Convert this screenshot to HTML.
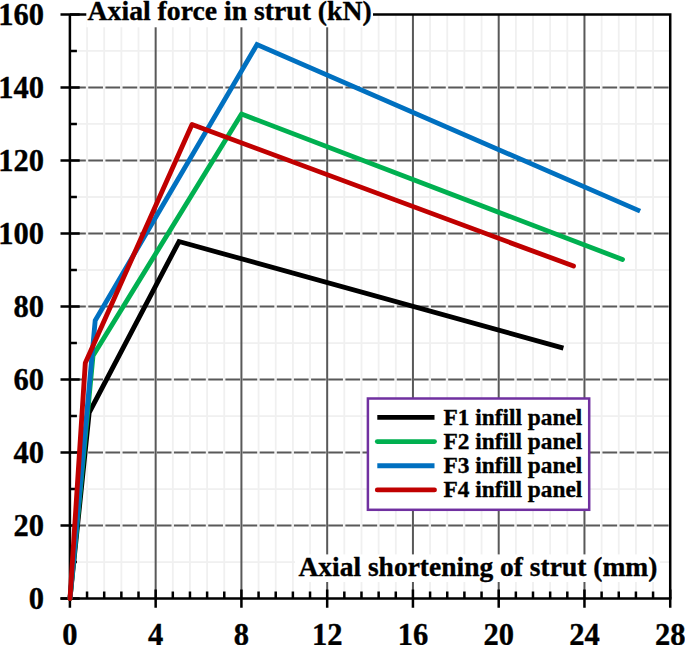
<!DOCTYPE html><html><head><meta charset="utf-8"><style>html,body{margin:0;padding:0;background:#fff;width:685px;height:645px;overflow:hidden}svg{display:block}text{font-family:"Liberation Serif",serif;font-weight:bold;fill:#000;stroke:#000;stroke-width:0.35px}</style></head><body>
<svg width="685" height="645" viewBox="0 0 685 645">
<path d="M87.05 14.44V598.60M104.20 14.44V598.60M121.36 14.44V598.60M138.51 14.44V598.60M172.81 14.44V598.60M189.96 14.44V598.60M207.12 14.44V598.60M224.27 14.44V598.60M258.57 14.44V598.60M275.72 14.44V598.60M292.88 14.44V598.60M310.03 14.44V598.60M344.33 14.44V598.60M361.48 14.44V598.60M378.64 14.44V598.60M395.79 14.44V598.60M430.09 14.44V598.60M447.24 14.44V598.60M464.40 14.44V598.60M481.55 14.44V598.60M515.85 14.44V598.60M533.00 14.44V598.60M550.16 14.44V598.60M567.31 14.44V598.60M601.61 14.44V598.60M618.76 14.44V598.60M635.92 14.44V598.60M653.07 14.44V598.60M69.90 562.09H670.22M69.90 489.07H670.22M69.90 416.05H670.22M69.90 343.03H670.22M69.90 270.01H670.22M69.90 196.99H670.22M69.90 123.97H670.22M69.90 50.95H670.22" stroke="#f0f0f0" stroke-width="1.8" fill="none"/>
<path d="M155.66 14.44V598.60M241.42 14.44V598.60M327.18 14.44V598.60M412.94 14.44V598.60M498.70 14.44V598.60M584.46 14.44V598.60" stroke="#595959" stroke-width="2" fill="none"/>
<path d="M69.90 525.58H670.22M69.90 452.56H670.22M69.90 379.54H670.22M69.90 306.52H670.22M69.90 233.50H670.22M69.90 160.48H670.22M69.90 87.46H670.22" stroke="#595959" stroke-width="2" fill="none" stroke-dasharray="14.74 2.4" stroke-dashoffset="15.94"/>
<path d="M69.90 14.44H670.22V598.60" stroke="#000" stroke-width="2.5" fill="none"/>
<path d="M69.90 14.14V599.85M60.50 598.60H671.42" stroke="#000" stroke-width="2.5" fill="none"/>
<path d="M60.5 598.60H79.7M60.5 525.58H79.7M60.5 452.56H79.7M60.5 379.54H79.7M60.5 306.52H79.7M60.5 233.50H79.7M60.5 160.48H79.7M60.5 87.46H79.7M60.5 14.44H79.7M69.90 562.09H76.9M69.90 489.07H76.9M69.90 416.05H76.9M69.90 343.03H76.9M69.90 270.01H76.9M69.90 196.99H76.9M69.90 123.97H76.9M69.90 50.95H76.9M69.90 589.4V607.8M155.66 589.4V607.8M241.42 589.4V607.8M327.18 589.4V607.8M412.94 589.4V607.8M498.70 589.4V607.8M584.46 589.4V607.8M670.22 589.4V607.8M87.05 591.6V598.60M104.20 591.6V598.60M121.36 591.6V598.60M138.51 591.6V598.60M172.81 591.6V598.60M189.96 591.6V598.60M207.12 591.6V598.60M224.27 591.6V598.60M258.57 591.6V598.60M275.72 591.6V598.60M292.88 591.6V598.60M310.03 591.6V598.60M344.33 591.6V598.60M361.48 591.6V598.60M378.64 591.6V598.60M395.79 591.6V598.60M430.09 591.6V598.60M447.24 591.6V598.60M464.40 591.6V598.60M481.55 591.6V598.60M515.85 591.6V598.60M533.00 591.6V598.60M550.16 591.6V598.60M567.31 591.6V598.60M601.61 591.6V598.60M618.76 591.6V598.60M635.92 591.6V598.60M653.07 591.6V598.60" stroke="#000" stroke-width="2.5" fill="none"/>
<path d="M70.0 598.6 L89.2 412.5 L179.0 241.5 L563.4 348.1" stroke="#000000" stroke-width="4.85" fill="none" stroke-linecap="butt" stroke-linejoin="miter"/>
<path d="M70.0 598.6 L93.0 355.8 L241.5 114.0 L622.5 259.5" stroke="#00B050" stroke-width="4.85" fill="none" stroke-linecap="round" stroke-linejoin="round"/>
<path d="M70.0 598.6 L95.2 320.5 L257.0 44.5 L640.1 211.1" stroke="#0070C0" stroke-width="4.85" fill="none" stroke-linecap="butt" stroke-linejoin="miter"/>
<path d="M70.0 598.6 L85.3 363.0 L192.0 124.5 L573.5 266.1" stroke="#C00000" stroke-width="4.85" fill="none" stroke-linecap="round" stroke-linejoin="round"/>
<rect x="86.3" y="0" width="286.7" height="27.3" fill="#fff"/>
<text x="87.6" y="20.2" font-size="27.7">Axial force in strut (kN)</text>
<rect x="295" y="554.4" width="365" height="27.6" fill="#fff"/>
<text x="298.4" y="575.8" font-size="27.5">Axial shortening of strut (mm)</text>
<text x="44" y="609.30" font-size="30.5" text-anchor="end">0</text>
<text x="44" y="536.28" font-size="30.5" text-anchor="end">20</text>
<text x="44" y="463.26" font-size="30.5" text-anchor="end">40</text>
<text x="44" y="390.24" font-size="30.5" text-anchor="end">60</text>
<text x="44" y="317.22" font-size="30.5" text-anchor="end">80</text>
<text x="44" y="244.20" font-size="30.5" text-anchor="end">100</text>
<text x="44" y="171.18" font-size="30.5" text-anchor="end">120</text>
<text x="44" y="98.16" font-size="30.5" text-anchor="end">140</text>
<text x="44" y="25.14" font-size="30.5" text-anchor="end">160</text>
<text x="69.90" y="645.0" font-size="30.5" text-anchor="middle">0</text>
<text x="155.66" y="645.0" font-size="30.5" text-anchor="middle">4</text>
<text x="241.42" y="645.0" font-size="30.5" text-anchor="middle">8</text>
<text x="327.18" y="645.0" font-size="30.5" text-anchor="middle">12</text>
<text x="412.94" y="645.0" font-size="30.5" text-anchor="middle">16</text>
<text x="498.70" y="645.0" font-size="30.5" text-anchor="middle">20</text>
<text x="584.46" y="645.0" font-size="30.5" text-anchor="middle">24</text>
<text x="670.22" y="645.0" font-size="30.5" text-anchor="middle">28</text>
<rect x="367.9" y="398.5" width="221.3" height="111.3" fill="#fff" stroke="#7030A0" stroke-width="2.5"/>
<path d="M377.3 417.40H434.5" stroke="#000000" stroke-width="4.85" stroke-linecap="butt"/>
<text x="443.5" y="424.70" font-size="23.35">F1 infill panel</text>
<path d="M377.3 441.57H434.5" stroke="#00B050" stroke-width="4.85" stroke-linecap="round"/>
<text x="443.5" y="448.87" font-size="23.35">F2 infill panel</text>
<path d="M377.3 465.74H434.5" stroke="#0070C0" stroke-width="4.85" stroke-linecap="butt"/>
<text x="443.5" y="473.04" font-size="23.35">F3 infill panel</text>
<path d="M377.3 489.91H434.5" stroke="#C00000" stroke-width="4.85" stroke-linecap="round"/>
<text x="443.5" y="497.21" font-size="23.35">F4 infill panel</text>
</svg></body></html>
